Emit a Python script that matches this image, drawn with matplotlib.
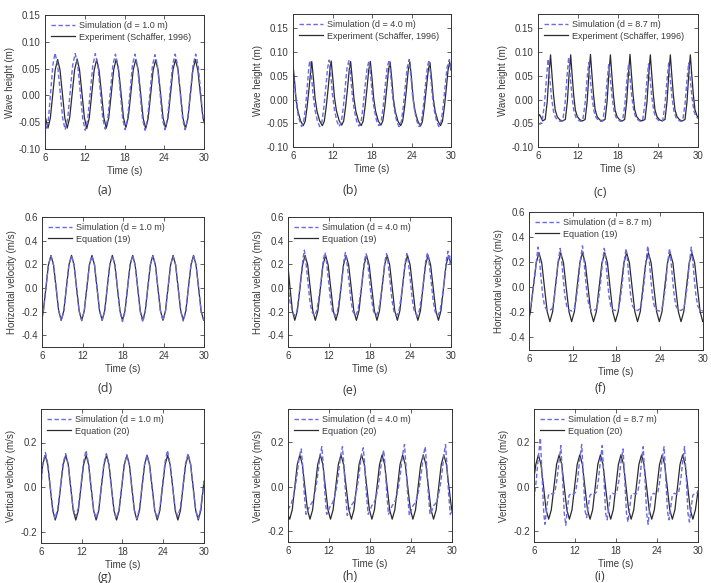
import numpy as np
import matplotlib
matplotlib.use("Agg")
import matplotlib.pyplot as plt
from matplotlib.ticker import FormatStrFormatter

plt.rcParams['font.family'] = ['Liberation Sans', 'DejaVu Sans']
plt.rcParams['axes.unicode_minus'] = False
plt.rcParams['text.color'] = '#3a3a3a'
plt.rcParams['axes.labelcolor'] = '#3a3a3a'
plt.rcParams['xtick.labelcolor'] = '#3a3a3a'
plt.rcParams['ytick.labelcolor'] = '#3a3a3a'

# ---- data (time s, value) ----
a_sim = [(6.0,-0.055),(6.2,-0.064),(6.53,-0.043),(6.86,0.007),(7.19,0.057),(7.52,0.079),
         (7.9,0.057),(8.29,0.007),(8.67,-0.043),(9.05,-0.064),(9.43,-0.043),(9.8,0.007),(10.18,0.057),(10.56,0.078),
         (10.94,0.057),(11.31,0.007),(11.69,-0.043),(12.07,-0.065),(12.45,-0.044),(12.83,0.006),(13.22,0.056),(13.6,0.078),
         (13.97,0.057),(14.35,0.007),(14.72,-0.043),(15.1,-0.063),(15.48,-0.043),(15.86,0.007),(16.25,0.057),(16.63,0.077),
         (17.0,0.056),(17.36,0.006),(17.73,-0.044),(18.1,-0.064),(18.47,-0.043),(18.83,0.007),(19.2,0.057),(19.57,0.077),
         (19.95,0.056),(20.33,0.006),(20.72,-0.044),(21.1,-0.065),(21.47,-0.044),(21.85,0.006),(22.22,0.056),(22.6,0.076),
         (22.97,0.056),(23.35,0.006),(23.72,-0.044),(24.1,-0.064),(24.49,-0.043),(24.88,0.007),(25.26,0.057),(25.65,0.077),
         (26.02,0.056),(26.4,0.006),(26.77,-0.044),(27.15,-0.064),(27.55,-0.043),(27.95,0.007),(28.35,0.057),(28.75,0.077),
         (29.12,0.056),(29.5,0.006),(29.87,-0.044),(30.0,-0.052)]
a_exp = [(6.0,-0.038),(6.45,-0.061),(6.81,-0.042),(7.18,0.003),(7.54,0.048),(7.9,0.067),
         (8.26,0.048),(8.63,0.003),(8.99,-0.042),(9.35,-0.061),(9.72,-0.042),(10.1,0.003),(10.47,0.048),(10.85,0.068),
         (11.21,0.048),(11.58,0.004),(11.94,-0.041),(12.3,-0.062),(12.67,-0.043),(13.05,0.002),(13.42,0.047),(13.8,0.067),
         (14.16,0.047),(14.53,0.003),(14.89,-0.042),(15.25,-0.061),(15.62,-0.042),(16.0,0.003),(16.37,0.048),(16.75,0.068),
         (17.11,0.048),(17.48,0.004),(17.84,-0.041),(18.2,-0.060),(18.57,-0.041),(18.95,0.003),(19.32,0.048),(19.7,0.067),
         (20.07,0.047),(20.45,0.002),(20.82,-0.043),(21.2,-0.062),(21.57,-0.043),(21.95,0.002),(22.32,0.047),(22.7,0.066),
         (23.07,0.047),(23.45,0.003),(23.82,-0.042),(24.2,-0.061),(24.57,-0.042),(24.95,0.003),(25.32,0.048),(25.7,0.067),
         (26.07,0.048),(26.45,0.003),(26.82,-0.042),(27.2,-0.062),(27.57,-0.043),(27.95,0.002),(28.32,0.047),(28.7,0.067),
         (29.07,0.047),(29.45,0.003),(29.82,-0.040),(30.0,-0.050)]

b_sim = [(6.0,0.062),(6.25,0.028),(6.5,-0.008),(6.8,-0.035),(7.3,-0.057),(7.6,-0.048),(7.9,-0.018),(8.15,0.025),(8.4,0.066),(8.55,0.082),
         (8.8,0.050),(9.05,0.010),(9.35,-0.022),(9.7,-0.045),(10.05,-0.057),(10.4,-0.047),(10.7,-0.015),(11.0,0.028),(11.25,0.066),(11.5,0.083),
         (11.75,0.050),(12.0,0.010),(12.3,-0.022),(12.65,-0.045),(13.0,-0.057),(13.35,-0.047),(13.65,-0.015),(13.95,0.028),(14.2,0.066),(14.5,0.082),
         (14.75,0.050),(15.0,0.010),(15.3,-0.022),(15.65,-0.045),(16.0,-0.056),(16.35,-0.046),(16.65,-0.014),(16.95,0.028),(17.25,0.066),(17.55,0.081),
         (17.8,0.049),(18.05,0.009),(18.35,-0.022),(18.7,-0.045),(19.05,-0.055),(19.4,-0.046),(19.7,-0.015),(20.0,0.028),(20.3,0.067),(20.6,0.083),
         (20.85,0.050),(21.1,0.010),(21.4,-0.022),(21.75,-0.046),(22.1,-0.057),(22.45,-0.047),(22.75,-0.015),(23.05,0.028),(23.35,0.067),(23.65,0.084),
         (23.9,0.051),(24.15,0.010),(24.45,-0.022),(24.8,-0.045),(25.15,-0.057),(25.5,-0.047),(25.8,-0.015),(26.1,0.028),(26.4,0.067),(26.65,0.083),
         (26.9,0.050),(27.15,0.010),(27.45,-0.022),(27.8,-0.045),(28.15,-0.057),(28.5,-0.047),(28.8,-0.015),(29.1,0.028),(29.4,0.067),(29.75,0.084),
         (30.0,0.062)]
b_exp = [(6.0,0.073),(6.2,0.045),(6.45,0.003),(6.75,-0.025),(7.15,-0.045),(7.55,-0.055),(7.85,-0.046),(8.15,-0.015),(8.45,0.025),(8.7,0.062),(8.85,0.080),
         (9.1,0.045),(9.35,0.003),(9.65,-0.025),(10.05,-0.045),(10.45,-0.055),(10.75,-0.046),(11.05,-0.015),(11.35,0.025),(11.6,0.062),(11.8,0.081),
         (12.05,0.045),(12.3,0.004),(12.6,-0.024),(13.0,-0.044),(13.4,-0.054),(13.7,-0.045),(14.0,-0.014),(14.3,0.026),(14.55,0.063),(14.75,0.080),
         (15.0,0.044),(15.25,0.003),(15.55,-0.025),(15.95,-0.045),(16.35,-0.055),(16.65,-0.046),(16.95,-0.015),(17.25,0.025),(17.5,0.062),(17.75,0.080),
         (18.0,0.045),(18.25,0.003),(18.55,-0.025),(18.95,-0.045),(19.35,-0.054),(19.65,-0.045),(19.95,-0.015),(20.25,0.025),(20.5,0.062),(20.75,0.079),
         (21.0,0.044),(21.25,0.002),(21.55,-0.026),(21.95,-0.046),(22.35,-0.055),(22.65,-0.046),(22.95,-0.016),(23.25,0.024),(23.5,0.061),(23.75,0.079),
         (24.0,0.045),(24.25,0.003),(24.55,-0.025),(24.95,-0.045),(25.35,-0.056),(25.65,-0.047),(25.95,-0.016),(26.25,0.024),(26.55,0.062),(26.8,0.078),
         (27.05,0.044),(27.3,0.003),(27.6,-0.025),(28.0,-0.045),(28.4,-0.055),(28.7,-0.046),(29.0,-0.015),(29.3,0.025),(29.55,0.062),(29.8,0.079),
         (30.0,0.062)]

c_sim = [(6.0,-0.050),(6.3,-0.052),(6.62,-0.045),(6.97,-0.010),(7.27,0.045),(7.52,0.085),
         (7.77,0.045),(8.02,0.005),(8.32,-0.025),(8.62,-0.038),(9.02,-0.044),(9.35,-0.046),(9.7,-0.045),(10.05,-0.010),(10.35,0.048),(10.6,0.089),
         (10.85,0.046),(11.1,0.005),(11.4,-0.025),(11.7,-0.038),(12.1,-0.044),(12.4,-0.046),(12.7,-0.045),(13.05,-0.010),(13.35,0.042),(13.6,0.078),
         (13.85,0.042),(14.1,0.004),(14.4,-0.025),(14.7,-0.038),(15.1,-0.044),(15.4,-0.046),(15.72,-0.045),(16.07,-0.010),(16.37,0.040),(16.62,0.075),
         (16.87,0.040),(17.12,0.004),(17.42,-0.025),(17.72,-0.038),(18.12,-0.044),(18.4,-0.046),(18.68,-0.045),(19.03,-0.010),(19.33,0.040),(19.58,0.075),
         (19.83,0.040),(20.08,0.004),(20.38,-0.025),(20.68,-0.038),(21.08,-0.044),(21.38,-0.046),(21.68,-0.045),(22.03,-0.010),(22.33,0.040),(22.58,0.075),
         (22.83,0.040),(23.08,0.004),(23.38,-0.025),(23.68,-0.038),(24.08,-0.044),(24.4,-0.046),(24.7,-0.045),(25.05,-0.010),(25.35,0.041),(25.6,0.077),
         (25.85,0.041),(26.1,0.004),(26.4,-0.025),(26.7,-0.038),(27.1,-0.044),(27.4,-0.046),(27.7,-0.045),(28.05,-0.010),(28.35,0.041),(28.6,0.077),
         (28.85,0.041),(29.1,0.004),(29.4,-0.025),(29.7,-0.036),(30.0,-0.040)]
c_exp = [(6.0,-0.036),(6.25,-0.032),(6.7,-0.045),(7.08,-0.042),(7.38,-0.005),(7.63,0.050),(7.88,0.094),
         (8.08,0.055),(8.33,0.010),(8.58,-0.022),(8.88,-0.036),(9.28,-0.043),(9.68,-0.045),(10.1,-0.042),(10.4,-0.005),(10.65,0.050),(10.9,0.094),
         (11.1,0.055),(11.35,0.010),(11.6,-0.022),(11.9,-0.036),(12.3,-0.043),(12.7,-0.045),(13.07,-0.042),(13.37,-0.005),(13.62,0.050),(13.87,0.095),
         (14.07,0.056),(14.32,0.011),(14.57,-0.021),(14.87,-0.036),(15.27,-0.043),(15.67,-0.045),(16.06,-0.042),(16.36,-0.005),(16.61,0.050),(16.86,0.094),
         (17.06,0.055),(17.31,0.010),(17.56,-0.022),(17.86,-0.036),(18.26,-0.043),(18.66,-0.045),(19.0,-0.042),(19.3,-0.005),(19.55,0.050),(19.8,0.095),
         (20.0,0.056),(20.25,0.011),(20.5,-0.021),(20.8,-0.036),(21.2,-0.043),(21.6,-0.045),(22.05,-0.042),(22.35,-0.005),(22.6,0.050),(22.85,0.094),
         (23.05,0.055),(23.3,0.010),(23.55,-0.022),(23.85,-0.036),(24.25,-0.043),(24.65,-0.045),(25.05,-0.042),(25.35,-0.005),(25.6,0.050),(25.85,0.094),
         (26.05,0.055),(26.3,0.010),(26.55,-0.022),(26.85,-0.036),(27.25,-0.043),(27.65,-0.045),(28.05,-0.042),(28.35,-0.005),(28.6,0.050),(28.85,0.094),
         (29.05,0.055),(29.3,0.010),(29.55,-0.022),(29.85,-0.034),(30.0,-0.038)]

d_sim = [(6.0,-0.26),(6.2,-0.20),(6.58,0.0),(6.95,0.195),(7.33,0.27),
         (7.71,0.195),(8.09,0.005),(8.47,-0.19),(8.85,-0.275),(9.23,-0.2),(9.61,0.0),(9.99,0.195),(10.37,0.27),
         (10.75,0.195),(11.12,0.0),(11.5,-0.195),(11.88,-0.278),(12.26,-0.195),(12.64,0.0),(13.02,0.195),(13.4,0.27),
         (13.78,0.195),(14.15,0.0),(14.53,-0.195),(14.91,-0.275),(15.29,-0.195),(15.66,0.0),(16.04,0.195),(16.42,0.27),
         (16.8,0.195),(17.17,0.0),(17.55,-0.2),(17.92,-0.285),(18.3,-0.2),(18.67,0.0),(19.05,0.195),(19.43,0.275),
         (19.8,0.195),(20.18,0.0),(20.55,-0.2),(20.93,-0.29),(21.3,-0.2),(21.67,0.0),(22.05,0.195),(22.42,0.27),
         (22.8,0.195),(23.17,0.0),(23.55,-0.195),(23.92,-0.275),(24.3,-0.195),(24.67,0.0),(25.05,0.195),(25.42,0.265),
         (25.8,0.195),(26.17,0.0),(26.55,-0.195),(26.93,-0.28),(27.31,-0.195),(27.69,0.0),(28.07,0.195),(28.45,0.27),
         (28.82,0.195),(29.2,0.0),(29.57,-0.195),(29.95,-0.27),(30.0,-0.265)]
d_eq = [(6.0,-0.255),(6.2,-0.194),(6.58,0.0),(6.95,0.194),(7.33,0.275),
        (7.71,0.194),(8.09,0.0),(8.47,-0.194),(8.85,-0.274),(9.23,-0.194),(9.61,0.0),(9.99,0.194),(10.37,0.275),
        (10.75,0.194),(11.12,0.0),(11.5,-0.194),(11.88,-0.274),(12.26,-0.194),(12.64,0.0),(13.02,0.194),(13.4,0.275),
        (13.78,0.194),(14.15,0.0),(14.53,-0.194),(14.91,-0.274),(15.29,-0.194),(15.66,0.0),(16.04,0.194),(16.42,0.275),
        (16.8,0.194),(17.17,0.0),(17.55,-0.194),(17.92,-0.274),(18.3,-0.194),(18.67,0.0),(19.05,0.194),(19.43,0.275),
        (19.8,0.194),(20.18,0.0),(20.55,-0.194),(20.93,-0.274),(21.3,-0.194),(21.67,0.0),(22.05,0.194),(22.42,0.275),
        (22.8,0.194),(23.17,0.0),(23.55,-0.194),(23.92,-0.274),(24.3,-0.194),(24.67,0.0),(25.05,0.194),(25.42,0.275),
        (25.8,0.194),(26.17,0.0),(26.55,-0.194),(26.93,-0.274),(27.31,-0.194),(27.69,0.0),(28.07,0.194),(28.45,0.275),
        (28.82,0.194),(29.2,0.0),(29.57,-0.194),(29.95,-0.274),(30.0,-0.273)]

e_sim = [(6.0,0.02),(6.3,-0.12),(6.7,-0.21),(7.0,-0.235),(7.3,-0.20),(7.6,-0.07),(7.9,0.08),(8.2,0.24),(8.4,0.32),
         (8.6,0.24),(8.9,0.07),(9.2,-0.10),(9.5,-0.20),(9.9,-0.235),(10.25,-0.19),(10.6,-0.06),(10.9,0.08),(11.2,0.24),(11.45,0.30),
         (11.65,0.23),(11.95,0.07),(12.25,-0.10),(12.55,-0.20),(12.95,-0.238),(13.3,-0.19),(13.65,-0.06),(13.95,0.08),(14.25,0.24),(14.45,0.30),
         (14.65,0.23),(14.95,0.07),(15.25,-0.10),(15.55,-0.20),(15.95,-0.235),(16.3,-0.19),(16.65,-0.06),(16.95,0.08),(17.25,0.23),(17.5,0.29),
         (17.7,0.23),(18.0,0.07),(18.3,-0.10),(18.6,-0.20),(19.0,-0.232),(19.35,-0.19),(19.7,-0.06),(20.0,0.08),(20.3,0.23),(20.5,0.29),
         (20.7,0.23),(21.0,0.07),(21.3,-0.10),(21.6,-0.20),(22.0,-0.235),(22.35,-0.19),(22.7,-0.06),(23.0,0.08),(23.3,0.23),(23.5,0.29),
         (23.7,0.23),(24.0,0.07),(24.3,-0.10),(24.6,-0.20),(25.0,-0.235),(25.35,-0.19),(25.7,-0.06),(26.0,0.08),(26.3,0.24),(26.55,0.30),
         (26.75,0.23),(27.05,0.07),(27.35,-0.10),(27.65,-0.20),(28.05,-0.235),(28.4,-0.19),(28.75,-0.06),(29.05,0.08),(29.35,0.25),(29.55,0.31),
         (29.7,0.24),(29.8,0.27),(29.9,0.20),(30.0,0.24)]
e_eq = [(6.0,0.180),(6.3,0.0),(6.65,-0.194),(7.0,-0.274),
        (7.38,-0.194),(7.76,0.0),(8.14,0.194),(8.52,0.275),(8.9,0.194),(9.27,0.0),(9.65,-0.194),(10.02,-0.274),
        (10.4,-0.194),(10.78,0.0),(11.15,0.194),(11.53,0.275),(11.91,0.194),(12.29,0.0),(12.67,-0.194),(13.05,-0.274),
        (13.42,-0.194),(13.8,0.0),(14.17,0.194),(14.55,0.275),(14.93,0.194),(15.31,0.0),(15.69,-0.194),(16.07,-0.274),
        (16.45,-0.194),(16.82,0.0),(17.2,0.194),(17.57,0.275),(17.95,0.194),(18.33,0.0),(18.72,-0.194),(19.1,-0.274),
        (19.47,-0.194),(19.85,0.0),(20.22,0.194),(20.6,0.275),(20.97,0.194),(21.35,0.0),(21.72,-0.194),(22.1,-0.274),
        (22.47,-0.194),(22.85,0.0),(23.22,0.194),(23.6,0.275),(23.98,0.194),(24.36,0.0),(24.74,-0.194),(25.12,-0.274),
        (25.5,-0.194),(25.87,0.0),(26.25,0.194),(26.62,0.275),(27.0,0.194),(27.38,0.0),(27.77,-0.194),(28.15,-0.274),
        (28.52,-0.194),(28.9,0.0),(29.27,0.194),(29.65,0.275),(30.0,0.200)]

f_sim = [(6.0,-0.19),(6.3,-0.13),(6.6,0.00),(6.9,0.14),(7.1,0.25),(7.25,0.32),
         (7.4,0.25),(7.65,0.08),(7.9,-0.07),(8.15,-0.15),(8.45,-0.18),(8.85,-0.185),(9.2,-0.17),(9.45,-0.10),(9.75,0.04),(10.0,0.20),(10.3,0.31),
         (10.45,0.25),(10.7,0.08),(10.95,-0.07),(11.2,-0.15),(11.5,-0.18),(11.9,-0.19),(12.25,-0.17),(12.5,-0.10),(12.8,0.04),(13.05,0.20),(13.38,0.33),
         (13.53,0.25),(13.78,0.08),(14.03,-0.07),(14.28,-0.15),(14.58,-0.18),(14.98,-0.185),(15.33,-0.17),(15.58,-0.10),(15.88,0.04),(16.13,0.20),(16.38,0.31),
         (16.53,0.25),(16.78,0.08),(17.03,-0.07),(17.28,-0.15),(17.58,-0.18),(17.98,-0.185),(18.33,-0.17),(18.58,-0.10),(18.88,0.04),(19.13,0.20),(19.38,0.31),
         (19.53,0.25),(19.78,0.08),(20.03,-0.07),(20.28,-0.15),(20.58,-0.175),(20.98,-0.185),(21.33,-0.17),(21.58,-0.10),(21.88,0.04),(22.13,0.20),(22.38,0.33),
         (22.53,0.26),(22.78,0.08),(23.03,-0.07),(23.28,-0.15),(23.58,-0.18),(23.98,-0.19),(24.33,-0.17),(24.58,-0.10),(24.88,0.04),(25.13,0.20),(25.38,0.31),
         (25.53,0.25),(25.78,0.08),(26.03,-0.07),(26.28,-0.15),(26.58,-0.18),(26.98,-0.185),(27.33,-0.17),(27.58,-0.10),(27.88,0.04),(28.13,0.20),(28.38,0.32),
         (28.53,0.25),(28.78,0.08),(29.03,-0.07),(29.28,-0.15),(29.58,-0.18),(30.0,-0.19)]
f_eq = [(6.0,-0.25),(6.2,-0.194),(6.59,0.0),(6.99,0.194),(7.38,0.275),
        (7.76,0.194),(8.13,0.0),(8.51,-0.194),(8.88,-0.274),(9.26,-0.194),(9.63,0.0),(10.01,0.194),(10.38,0.275),
        (10.76,0.194),(11.13,0.0),(11.51,-0.194),(11.88,-0.274),(12.26,-0.194),(12.63,0.0),(13.01,0.194),(13.38,0.275),
        (13.76,0.194),(14.14,0.0),(14.52,-0.194),(14.9,-0.274),(15.29,-0.194),(15.67,0.0),(16.06,0.194),(16.45,0.275),
        (16.82,0.194),(17.18,0.0),(17.55,-0.194),(17.92,-0.274),(18.31,-0.194),(18.7,0.0),(19.08,0.194),(19.47,0.275),
        (19.85,0.194),(20.22,0.0),(20.6,-0.194),(20.97,-0.274),(21.35,-0.194),(21.72,0.0),(22.1,0.194),(22.47,0.275),
        (22.85,0.194),(23.22,0.0),(23.6,-0.194),(23.97,-0.274),(24.35,-0.194),(24.72,0.0),(25.1,0.194),(25.47,0.275),
        (25.85,0.194),(26.22,0.0),(26.6,-0.194),(26.97,-0.274),(27.35,-0.194),(27.72,0.0),(28.1,0.194),(28.47,0.275),
        (28.85,0.194),(29.22,0.0),(29.6,-0.194),(29.97,-0.274),(30.0,-0.273)]

g_sim = [(6.0,0.0),(6.25,0.10),(6.65,0.155),
         (7.0,0.105),(7.36,0.002),(7.73,-0.095),(8.05,-0.140),(8.45,-0.100),(8.85,0.000),(9.24,0.105),(9.62,0.150),
         (10.0,0.105),(10.36,0.000),(10.73,-0.095),(11.1,-0.130),(11.48,-0.095),(11.86,0.003),(12.25,0.110),(12.62,0.165),
         (13.0,0.105),(13.36,0.000),(13.73,-0.098),(14.1,-0.140),(14.48,-0.100),(14.86,0.000),(15.25,0.105),(15.62,0.150),
         (16.0,0.102),(16.36,-0.002),(16.73,-0.100),(17.1,-0.140),(17.48,-0.100),(17.86,0.000),(18.25,0.100),(18.62,0.145),
         (19.0,0.100),(19.36,-0.002),(19.73,-0.100),(20.1,-0.140),(20.48,-0.100),(20.85,0.000),(21.23,0.100),(21.6,0.145),
         (21.97,0.100),(22.35,-0.002),(22.73,-0.100),(23.1,-0.140),(23.48,-0.098),(23.86,0.003),(24.25,0.110),(24.62,0.165),
         (25.0,0.105),(25.38,0.000),(25.75,-0.095),(26.12,-0.130),(26.5,-0.095),(26.89,0.002),(27.27,0.105),(27.65,0.150),
         (28.02,0.103),(28.39,-0.002),(28.76,-0.100),(29.13,-0.140),(29.5,-0.100),(29.88,0.000),(30.0,0.03)]
g_eq = [(6.0,0.03),(6.25,0.10),(6.62,0.143),
        (7.0,0.100),(7.36,-0.002),(7.73,-0.105),(8.1,-0.147),(8.49,-0.105),(8.87,-0.002),(9.26,0.100),(9.65,0.143),
        (10.02,0.100),(10.38,-0.002),(10.75,-0.105),(11.12,-0.147),(11.5,-0.105),(11.88,-0.002),(12.27,0.100),(12.65,0.143),
        (13.02,0.100),(13.38,-0.002),(13.75,-0.105),(14.12,-0.147),(14.5,-0.105),(14.88,-0.002),(15.27,0.100),(15.65,0.143),
        (16.02,0.100),(16.38,-0.002),(16.75,-0.105),(17.12,-0.147),(17.5,-0.105),(17.88,-0.002),(18.27,0.100),(18.65,0.143),
        (19.02,0.100),(19.38,-0.002),(19.75,-0.105),(20.12,-0.147),(20.5,-0.105),(20.87,-0.002),(21.25,0.100),(21.62,0.143),
        (21.99,0.100),(22.37,-0.002),(22.75,-0.105),(23.12,-0.147),(23.5,-0.105),(23.88,-0.002),(24.27,0.100),(24.65,0.143),
        (25.02,0.100),(25.4,-0.002),(25.77,-0.105),(26.15,-0.147),(26.53,-0.105),(26.91,-0.002),(27.29,0.100),(27.67,0.143),
        (28.04,0.100),(28.41,-0.002),(28.78,-0.105),(29.15,-0.147),(29.53,-0.105),(29.9,-0.002),(30.0,0.025)]

h_sim = [(6.0,-0.105),(6.45,-0.078),(6.75,-0.05),(7.05,-0.005),(7.35,0.06),(7.65,0.135),(7.93,0.17),
         (8.13,0.10),(8.38,-0.03),(8.63,-0.125),(8.88,-0.11),(9.18,-0.085),(9.48,-0.075),(9.78,-0.05),(10.08,-0.005),(10.38,0.06),(10.68,0.14),(10.95,0.18),
         (11.15,0.10),(11.4,-0.03),(11.65,-0.125),(11.9,-0.11),(12.2,-0.085),(12.5,-0.075),(12.8,-0.05),(13.1,-0.005),(13.4,0.06),(13.7,0.14),(13.97,0.18),
         (14.17,0.10),(14.42,-0.03),(14.67,-0.13),(14.92,-0.11),(15.22,-0.085),(15.52,-0.075),(15.82,-0.05),(16.12,-0.005),(16.42,0.06),(16.72,0.14),(17.02,0.175),
         (17.22,0.10),(17.47,-0.03),(17.72,-0.125),(17.97,-0.11),(18.27,-0.085),(18.57,-0.075),(18.87,-0.05),(19.17,-0.005),(19.47,0.06),(19.77,0.13),(20.0,0.165),
         (20.2,0.10),(20.45,-0.03),(20.7,-0.125),(20.95,-0.11),(21.25,-0.085),(21.55,-0.075),(21.85,-0.05),(22.15,-0.005),(22.45,0.06),(22.75,0.14),(23.05,0.19),
         (23.25,0.10),(23.5,-0.03),(23.75,-0.13),(24.0,-0.11),(24.3,-0.085),(24.6,-0.075),(24.9,-0.05),(25.2,-0.005),(25.5,0.06),(25.8,0.14),(26.08,0.18),
         (26.28,0.10),(26.53,-0.03),(26.78,-0.125),(27.03,-0.11),(27.33,-0.085),(27.63,-0.075),(27.93,-0.05),(28.23,-0.005),(28.53,0.06),(28.8,0.14),(29.05,0.19),
         (29.25,0.10),(29.5,-0.03),(29.75,-0.125),(30.0,-0.11)]
h_eq = [(6.0,-0.128),(6.25,-0.147),
        (6.62,-0.105),(6.99,-0.002),(7.36,0.100),(7.73,0.143),(8.1,0.100),(8.47,-0.002),(8.85,-0.105),(9.22,-0.147),
        (9.6,-0.105),(9.97,-0.002),(10.35,0.100),(10.73,0.143),(11.1,0.100),(11.47,-0.002),(11.85,-0.105),(12.22,-0.147),
        (12.6,-0.105),(12.98,-0.002),(13.37,0.100),(13.75,0.143),(14.13,0.100),(14.51,-0.002),(14.9,-0.105),(15.28,-0.147),
        (15.65,-0.105),(16.03,-0.002),(16.4,0.100),(16.78,0.143),(17.16,0.100),(17.53,-0.002),(17.91,-0.105),(18.28,-0.147),
        (18.65,-0.105),(19.02,-0.002),(19.4,0.100),(19.77,0.143),(20.14,0.100),(20.51,-0.002),(20.88,-0.105),(21.25,-0.147),
        (21.63,-0.105),(22.02,-0.002),(22.4,0.100),(22.78,0.143),(23.16,0.100),(23.53,-0.002),(23.91,-0.105),(24.28,-0.147),
        (24.66,-0.105),(25.04,-0.002),(25.42,0.100),(25.8,0.143),(26.18,0.100),(26.55,-0.002),(26.93,-0.105),(27.3,-0.147),
        (27.68,-0.105),(28.05,-0.002),(28.43,0.100),(28.8,0.143),(29.18,0.100),(29.55,-0.002),(29.9,-0.09),(30.0,-0.11)]

i_sim = [(6.0,-0.055),(6.3,0.02),(6.6,0.12),(6.93,0.22),
         (7.18,0.05),(7.43,-0.12),(7.6,-0.17),(7.85,-0.10),(8.1,-0.04),(8.4,-0.03),(8.75,-0.035),(9.05,-0.025),(9.35,0.03),(9.65,0.11),(9.93,0.185),
         (10.18,0.04),(10.43,-0.12),(10.65,-0.175),(10.88,-0.10),(11.13,-0.04),(11.43,-0.03),(11.78,-0.035),(12.08,-0.025),(12.38,0.03),(12.68,0.12),(12.98,0.19),
         (13.23,0.04),(13.48,-0.11),(13.7,-0.14),(13.93,-0.09),(14.18,-0.04),(14.48,-0.03),(14.83,-0.035),(15.13,-0.025),(15.43,0.03),(15.73,0.12),(15.98,0.185),
         (16.23,0.04),(16.48,-0.12),(16.7,-0.15),(16.93,-0.10),(17.18,-0.04),(17.48,-0.03),(17.83,-0.035),(18.13,-0.025),(18.43,0.03),(18.73,0.11),(19.03,0.17),
         (19.28,0.03),(19.53,-0.12),(19.75,-0.16),(19.98,-0.10),(20.23,-0.04),(20.53,-0.03),(20.88,-0.035),(21.18,-0.025),(21.48,0.03),(21.73,0.11),(21.98,0.18),
         (22.23,0.04),(22.48,-0.12),(22.7,-0.17),(22.93,-0.10),(23.18,-0.04),(23.48,-0.03),(23.83,-0.035),(24.13,-0.025),(24.43,0.03),(24.73,0.12),(25.03,0.18),
         (25.28,0.04),(25.53,-0.11),(25.75,-0.15),(25.98,-0.10),(26.23,-0.04),(26.53,-0.03),(26.88,-0.035),(27.18,-0.025),(27.48,0.03),(27.75,0.11),(28.03,0.18),
         (28.28,0.04),(28.53,-0.12),(28.75,-0.16),(28.98,-0.10),(29.23,-0.04),(29.53,-0.03),(29.8,-0.03),(30.0,-0.02)]
i_eq = [(6.0,0.04),(6.27,0.10),(6.64,0.143),
        (7.02,0.100),(7.4,-0.002),(7.77,-0.105),(8.15,-0.147),(8.53,-0.105),(8.92,-0.002),(9.3,0.100),(9.68,0.143),
        (10.06,0.100),(10.43,-0.002),(10.81,-0.105),(11.18,-0.147),(11.56,-0.105),(11.94,-0.002),(12.32,0.100),(12.7,0.143),
        (13.08,0.100),(13.45,-0.002),(13.83,-0.105),(14.2,-0.147),(14.58,-0.105),(14.96,-0.002),(15.34,0.100),(15.72,0.143),
        (16.1,0.100),(16.47,-0.002),(16.85,-0.105),(17.22,-0.147),(17.6,-0.105),(17.97,-0.002),(18.35,0.100),(18.72,0.143),
        (19.1,0.100),(19.47,-0.002),(19.85,-0.105),(20.22,-0.147),(20.6,-0.105),(20.97,-0.002),(21.35,0.100),(21.73,0.143),
        (22.1,0.100),(22.48,-0.002),(22.86,-0.105),(23.23,-0.147),(23.61,-0.105),(23.99,-0.002),(24.37,0.100),(24.75,0.143),
        (25.12,0.100),(25.5,-0.002),(25.87,-0.105),(26.25,-0.147),(26.62,-0.105),(27.0,-0.002),(27.37,0.100),(27.75,0.143),
        (28.12,0.100),(28.5,-0.002),(28.87,-0.105),(29.25,-0.147),(29.62,-0.105),(30.0,-0.02)]

depths = ['1.0', '4.0', '8.7']
panel_letters = ['a', 'b', 'c', 'd', 'e', 'f', 'g', 'h', 'i']
ref_labels = ['Experiment (Sch\u00e4ffer, 1996)', 'Equation (19)', 'Equation (20)']
y_labels = ['Wave height (m)', 'Horizontal velocity (m/s)', 'Vertical velocity (m/s)']
x_ticks = [6, 12, 18, 24, 30]

sim_series = [a_sim, b_sim, c_sim, d_sim, e_sim, f_sim, g_sim, h_sim, i_sim]
ref_series = [a_exp, b_exp, c_exp, d_eq, e_eq, f_eq, g_eq, h_eq, i_eq]

# axes boxes in pixels (left, right, top, bottom)
boxes = [(45, 204, 15, 149), (293, 451, 14, 147), (538, 698, 14, 147),
         (42, 204, 217, 347), (288, 451, 217, 347), (529, 703, 212, 350),
         (41, 204, 409, 543), (288, 452, 409, 542), (534, 698, 409, 542)]
label_pos = [(105, 190), (350, 191), (600, 192),
             (105, 389), (350, 391), (600, 389),
             (105, 577), (350, 577), (600, 577)]

W, H = 711, 583
fig = plt.figure(figsize=(W / 100, H / 100), dpi=100)

sim_color = '#6a6ae2'
ref_color = '#2b2b2b'

for k in range(9):
    row, col = divmod(k, 3)
    l, r, t, b = boxes[k]
    ax = fig.add_axes([l / W, 1 - b / H, (r - l) / W, (b - t) / H])

    ts, vs = np.array(sim_series[k]).T
    tr, vr = np.array(ref_series[k]).T
    ax.plot(tr, vr, color=ref_color, lw=0.9, label=ref_labels[row])
    ax.plot(ts, vs, color=sim_color, lw=1.0, dashes=(3.2, 1.8),
            label=f'Simulation (d = {depths[col]} m)')

    ax.set_xlim(6, 30)
    ax.set_xticks(x_ticks)
    if row == 0:
        ax.set_ylim(-0.10, 0.15 if col == 0 else 0.18)
        ax.set_yticks([-0.10, -0.05, 0.00, 0.05, 0.10, 0.15])
        ax.yaxis.set_major_formatter(FormatStrFormatter('%.2f'))
    elif row == 1:
        ax.set_ylim(-0.5, 0.6)
        ax.set_yticks([-0.4, -0.2, 0.0, 0.2, 0.4, 0.6])
        ax.yaxis.set_major_formatter(FormatStrFormatter('%.1f'))
    else:
        ax.set_ylim(-0.25, 0.35)
        ax.set_yticks([-0.2, 0.0, 0.2])
        ax.yaxis.set_major_formatter(FormatStrFormatter('%.1f'))

    ax.tick_params(direction='in', top=True, right=True, length=3, width=0.6,
                   color='#444444', labelsize=7, pad=3)
    for sp in ax.spines.values():
        sp.set_linewidth(0.7)
        sp.set_color('#333333')
    ax.set_xlabel('Time (s)', fontsize=7, labelpad=2)
    ax.set_ylabel(y_labels[row], fontsize=7, labelpad=3)

    handles, labels = ax.get_legend_handles_labels()
    ax.legend(handles[::-1], labels[::-1], loc='upper left', frameon=False,
              fontsize=6.5, handlelength=2.6, handletextpad=0.5,
              borderaxespad=0.3, labelspacing=0.25)

    px, py = label_pos[k]
    fig.text(px / W, 1 - py / H, f'({panel_letters[k]})', ha='center', va='center',
             fontsize=9, family=['Open Sans', 'DejaVu Sans'])

fig.savefig('out.png', dpi=100)
